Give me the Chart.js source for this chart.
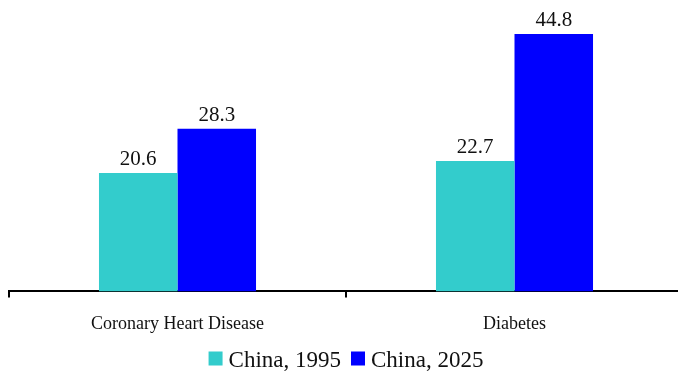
<!DOCTYPE html>
<html>
<head>
<meta charset="utf-8">
<script src="https://cdn.jsdelivr.net/npm/chart.js@4/dist/chart.umd.min.js"></script>
<style>
  html, body { margin: 0; padding: 0; background: #fff; overflow: hidden; }
  #wrap { position: relative; width: 692px; height: 374px; }
</style>
</head>
<body>
<div id="wrap"><canvas id="chart"></canvas></div>
<script>
const categories = ['Coronary Heart Disease', 'Diabetes'];
const seriesNames = ['China, 1995', 'China, 2025'];
const values1995 = [20.6, 22.7];
const values2025 = [28.3, 44.8];
const seriesColors = ['#33CCCC', '#0000FF'];

const serif = "'Liberation Serif', 'Times New Roman', serif";
const textColor = '#111';

// writes each bar's value just above it
const valueLabels = {
  id: 'valueLabels',
  afterDatasetsDraw(chart) {
    const ctx = chart.ctx;
    ctx.save();
    ctx.font = '21px ' + serif;
    ctx.fillStyle = textColor;
    ctx.textAlign = 'center';
    ctx.textBaseline = 'alphabetic';
    chart.data.datasets.forEach((ds, i) => {
      chart.getDatasetMeta(i).data.forEach((bar, j) => {
        ctx.fillText(ds.data[j].toFixed(1), bar.x, bar.y - 8);
      });
    });
    ctx.restore();
  }
};

// compact legend row along the bottom (square swatch, small gap, label)
const bottomLegend = {
  id: 'bottomLegend',
  afterDraw(chart) {
    const ctx = chart.ctx;
    const box = 14, gap = 6, between = 10;
    ctx.save();
    ctx.font = '23px ' + serif;
    ctx.textBaseline = 'alphabetic';
    ctx.textAlign = 'left';
    const items = chart.data.datasets.map(ds => ({
      text: ds.label,
      color: ds.backgroundColor,
      w: ctx.measureText(ds.label).width
    }));
    let total = 0;
    items.forEach((it, i) => { total += box + gap + it.w + (i ? between : 0); });
    let x = chart.width / 2 - total / 2;
    const baseline = chart.height - 7.5;
    items.forEach(it => {
      ctx.fillStyle = it.color;
      ctx.fillRect(x, baseline - 15, box, box);
      ctx.fillStyle = textColor;
      ctx.fillText(it.text, x + box + gap, baseline);
      x += box + gap + it.w + between;
    });
    ctx.restore();
  }
};

new Chart(document.getElementById('chart'), {
  type: 'bar',
  data: {
    labels: categories,
    datasets: [
      { label: seriesNames[0], data: values1995, backgroundColor: seriesColors[0], borderWidth: 0 },
      { label: seriesNames[1], data: values2025, backgroundColor: seriesColors[1], borderWidth: 0 }
    ]
  },
  options: {
    responsive: true,
    maintainAspectRatio: false,
    animation: false,
    layout: { padding: { top: 4, left: 9, right: 9, bottom: 23 } },
    datasets: { bar: { categoryPercentage: 0.466, barPercentage: 1 } },
    scales: {
      x: {
        grid: {
          display: true,
          offset: true,
          drawOnChartArea: false,
          drawTicks: true,
          tickLength: 6,
          color: '#000',
          lineWidth: 2
        },
        border: { display: true, color: '#000', width: 2 },
        ticks: {
          color: textColor,
          font: { family: serif, size: 18 },
          padding: 16,
          maxRotation: 0
        }
      },
      y: {
        display: false,
        min: 0,
        max: 50
      }
    },
    plugins: {
      tooltip: { enabled: false },
      legend: { display: false }
    }
  },
  plugins: [valueLabels, bottomLegend]
});
</script>
</body>
</html>
